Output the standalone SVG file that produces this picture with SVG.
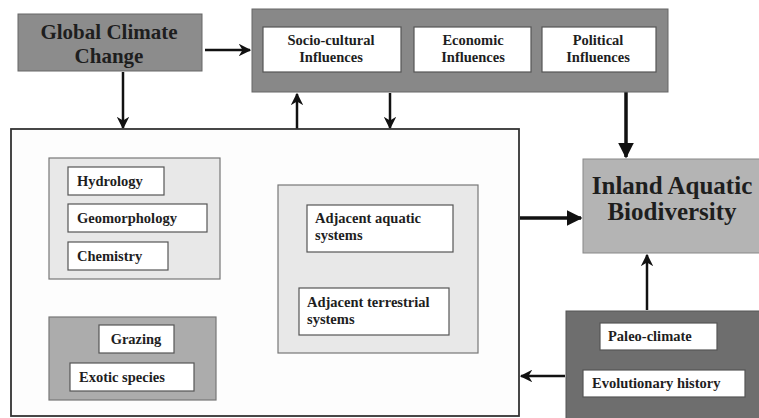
<svg xmlns="http://www.w3.org/2000/svg" width="759" height="418" viewBox="0 0 759 418">
<defs>
<marker id="ah" viewBox="0 0 10 10" refX="9" refY="5" markerWidth="5" markerHeight="5" orient="auto-start-reverse" markerUnits="strokeWidth">
<path d="M0,0 L10,5 L0,10 L3,5 Z" fill="#111"/>
</marker>
<marker id="ahb" viewBox="0 0 10 10" refX="9" refY="5" markerWidth="4.5" markerHeight="4.5" orient="auto-start-reverse" markerUnits="strokeWidth">
<path d="M0,0 L10,5 L0,10 Z" fill="#111"/>
</marker>
</defs>
<style>
.t{font-family:"Liberation Serif","Times New Roman",serif;font-weight:bold;fill:#1e1e1e}
.s{font-size:14.5px}
.w{fill:#fff;stroke:#555;stroke-width:1.2}
.c{fill:none;stroke:#111;stroke-width:2.5}
.ct{fill:none;stroke:#111;stroke-width:3.5}
</style>
<rect width="759" height="418" fill="#fff"/>
<g id="connectors">
<line class="c" x1="205" y1="50" x2="250" y2="50" marker-end="url(#ah)"/>
<line class="c" x1="123" y1="72" x2="123" y2="128" marker-end="url(#ah)"/>
<line class="c" x1="297" y1="129" x2="297" y2="94" marker-end="url(#ah)"/>
<line class="c" x1="390" y1="93" x2="390" y2="128" marker-end="url(#ah)"/>
<line class="ct" x1="626" y1="92" x2="626" y2="157" marker-end="url(#ahb)"/>
<line class="ct" x1="520" y1="218" x2="581" y2="218" marker-end="url(#ahb)"/>
<line class="c" x1="647" y1="310" x2="647" y2="255" marker-end="url(#ah)"/>
<line class="c" x1="565" y1="376" x2="521" y2="376" marker-end="url(#ah)"/>
<line class="c" x1="152" y1="281" x2="152" y2="315" marker-start="url(#ah)" marker-end="url(#ah)"/>
<line class="c" x1="227" y1="187" x2="274" y2="221" marker-start="url(#ah)" marker-end="url(#ah)"/>
<line class="c" x1="223" y1="332" x2="277" y2="289" marker-start="url(#ah)" marker-end="url(#ah)"/>
</g>
<g id="global-climate-change">
<rect x="18" y="14" width="184" height="57" fill="#8c8c8c" stroke="#666" stroke-width="1"/>
<text class="t" x="109" y="39" font-size="21" text-anchor="middle">Global Climate</text>
<text class="t" x="109" y="63" font-size="21" text-anchor="middle">Change</text>
</g>
<g id="influences">
<rect x="252" y="9" width="416" height="83" fill="#888" stroke="#666" stroke-width="1"/>
<g id="socio-cultural">
<rect class="w" x="263" y="27" width="138" height="45"/>
<text class="t s" x="331" y="45" text-anchor="middle">Socio-cultural</text>
<text class="t s" x="331" y="62" text-anchor="middle">Influences</text>
</g>
<g id="economic">
<rect class="w" x="414" y="27" width="117" height="45"/>
<text class="t s" x="473" y="45" text-anchor="middle">Economic</text>
<text class="t s" x="473" y="62" text-anchor="middle">Influences</text>
</g>
<g id="political">
<rect class="w" x="542" y="27" width="114" height="45"/>
<text class="t s" x="598" y="45" text-anchor="middle">Political</text>
<text class="t s" x="598" y="62" text-anchor="middle">Influences</text>
</g>
</g>
<g id="main-system">
<rect x="11" y="129" width="508" height="287" fill="#fdfdfd" stroke="#333" stroke-width="1.8"/>
<g id="physical">
<rect x="49" y="158" width="171" height="121" fill="#e8e8e8" stroke="#777" stroke-width="1.2"/>
<g id="hydrology"><rect class="w" x="68" y="167" width="96" height="28"/><text class="t s" x="77" y="186">Hydrology</text></g>
<g id="geomorphology"><rect class="w" x="68" y="204" width="139" height="28"/><text class="t s" x="77" y="223">Geomorphology</text></g>
<g id="chemistry"><rect class="w" x="68" y="242" width="100" height="28"/><text class="t s" x="77" y="261">Chemistry</text></g>
</g>
<g id="biotic">
<rect x="49" y="317" width="167" height="83" fill="#acacac" stroke="#777" stroke-width="1.2"/>
<g id="grazing"><rect class="w" x="99" y="325" width="75" height="28"/><text class="t s" x="136" y="344" text-anchor="middle">Grazing</text></g>
<g id="exotic-species"><rect class="w" x="70" y="363" width="124" height="28"/><text class="t s" x="79" y="382">Exotic species</text></g>
</g>
<g id="adjacent">
<rect x="278" y="185" width="200" height="168" fill="#e8e8e8" stroke="#777" stroke-width="1.2"/>
<g id="adjacent-aquatic"><rect class="w" x="307" y="205" width="146" height="47"/><text class="t s" x="315" y="223">Adjacent aquatic</text><text class="t s" x="315" y="240">systems</text></g>
<g id="adjacent-terrestrial"><rect class="w" x="299" y="288" width="150" height="47"/><text class="t s" x="307" y="307">Adjacent terrestrial</text><text class="t s" x="307" y="324">systems</text></g>
</g>
</g>
<g id="inland-aquatic-biodiversity">
<rect x="583" y="159" width="180" height="94" fill="#b4b4b4" stroke="#888" stroke-width="1"/>
<text class="t" x="672" y="194" font-size="25" text-anchor="middle">Inland Aquatic</text>
<text class="t" x="672" y="220" font-size="25" text-anchor="middle">Biodiversity</text>
</g>
<g id="history">
<rect x="566" y="311" width="200" height="110" fill="#6e6e6e" stroke="#555" stroke-width="1"/>
<g id="paleo-climate"><rect class="w" x="600" y="323" width="117" height="27"/><text class="t s" x="608" y="341">Paleo-climate</text></g>
<g id="evolutionary-history"><rect class="w" x="583" y="370" width="162" height="27"/><text class="t s" x="592" y="388">Evolutionary history</text></g>
</g>
</svg>
